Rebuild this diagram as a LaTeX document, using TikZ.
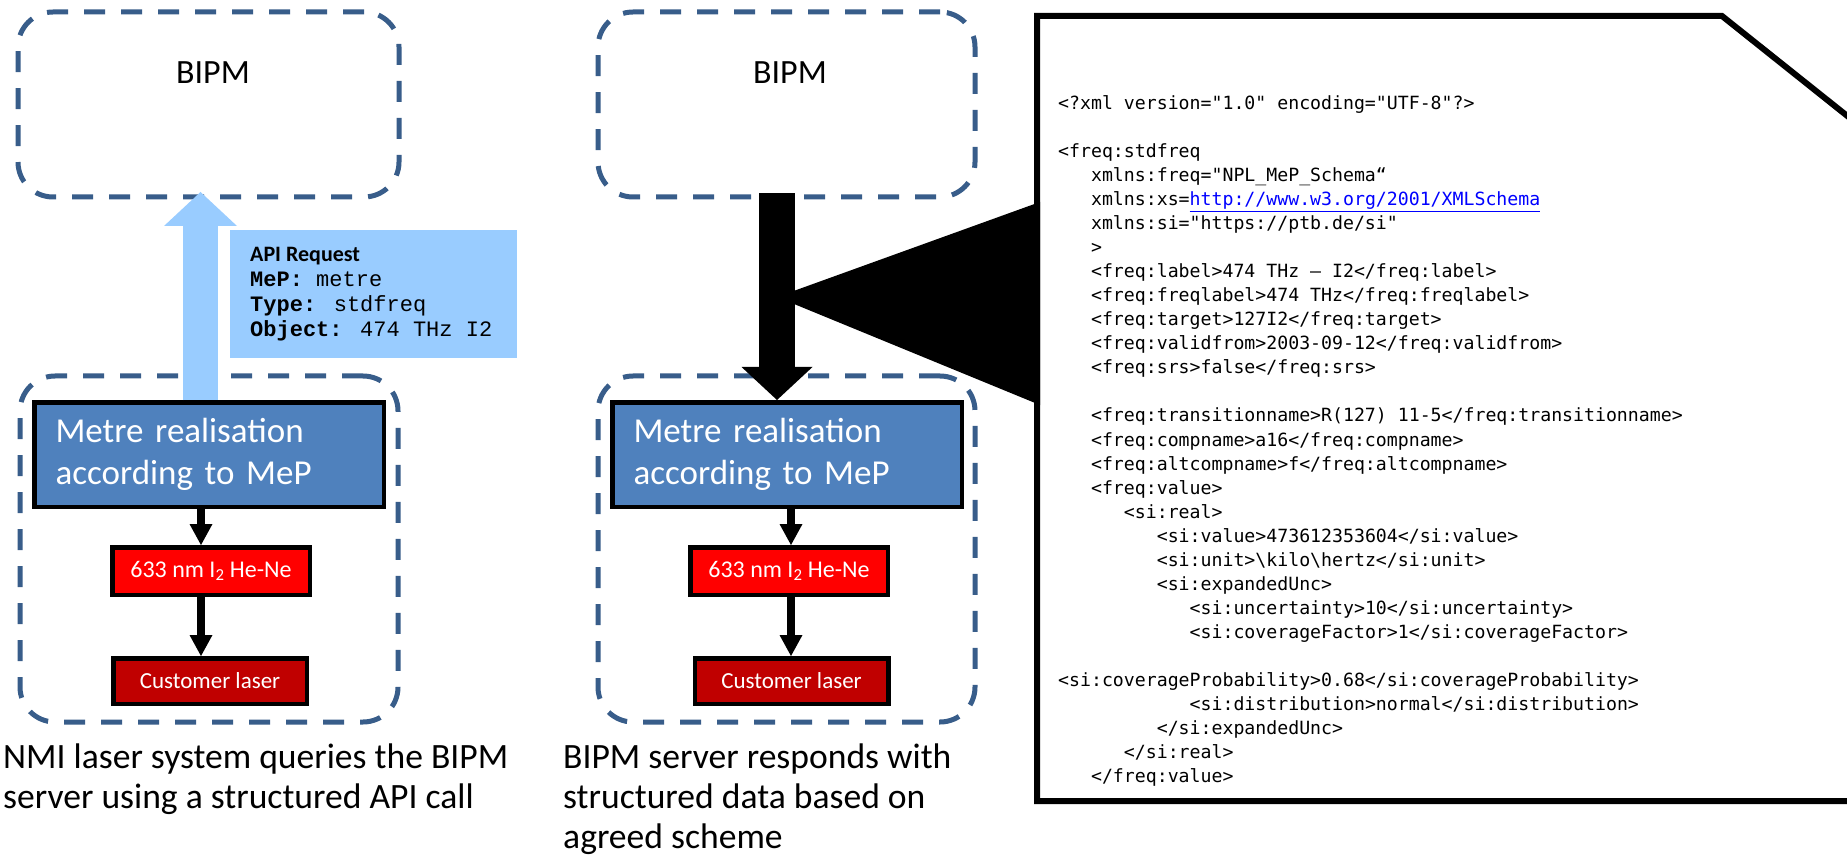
\documentclass[tikz,border=0pt]{standalone}
\usepackage{fontspec}
\setmainfont{Carlito}
\setmonofont{DejaVu Sans Mono}
\newfontfamily\cour{Liberation Mono}
\usetikzlibrary{arrows.meta,calc}
\definecolor{dashblue}{RGB}{56,93,138}
\definecolor{boxblue}{RGB}{79,129,189}
\definecolor{lightb}{RGB}{153,204,255}
\definecolor{darkred}{RGB}{192,0,0}
\definecolor{linkblue}{RGB}{0,0,255}
\tikzset{
  dbox/.style={draw=dashblue, line width=5pt, dash pattern=on 21pt off 16pt, rounded corners=35pt, inner sep=0pt},
  bipmt/.style={font=\fontsize{34}{40}\selectfont, inner sep=0pt},
  mrbox/.style={draw=black, line width=4.5pt, fill=boxblue, text=white, minimum width=349.5pt, minimum height=104.5pt, inner xsep=21pt, text width=307pt, align=left, font=\fontsize{35}{42}\selectfont},
  laserbox/.style={draw=black, line width=4.5pt, fill=red, text=white, minimum width=197.5pt, minimum height=47.5pt, font=\fontsize{24}{28}\selectfont},
  custbox/.style={draw=black, line width=4.5pt, fill=darkred, text=white, minimum width=193.5pt, minimum height=45.5pt, font=\fontsize{23}{27}\selectfont},
  sarrow/.style={draw=black, line width=8pt, -{Triangle[width=23pt,length=21pt,line width=0pt]}},
  barrow/.style={draw=black, line width=36pt, -{Triangle[width=71pt,length=33pt,line width=0pt]}},
  lbarrow/.style={draw=lightb, line width=35pt, -{Triangle[width=73pt,length=34pt,line width=0pt]}},
  apit/.style={anchor=base west, inner sep=0pt, font=\fontsize{22}{25}\selectfont},
  capt/.style={anchor=base west, inner sep=0pt, font=\fontsize{35.6}{42}\selectfont},
  xmlt/.style={anchor=base west, inner sep=0pt, font=\ttfamily\fontsize{18.2}{24}\selectfont}
}
\newcommand\xl[3]{\node[xmlt] (xl#1) at (1058,{109.2+24.06*#1}) {\hphantom{#2}#3};}
\begin{document}
\begin{tikzpicture}[x=1pt,y=-1pt]
\useasboundingbox (0,0) rectangle (1847,858);
\clip (0,0) rectangle (1847,858);
\fill[white] (0,0) rectangle (1847,858);

% dashed frames
\node[dbox, minimum width=381pt, minimum height=185pt] (bipm1) at (208.5,104.5) {};
\node[dbox, minimum width=377pt, minimum height=185pt] (bipm2) at (786.5,104.5) {};
\node[dbox, minimum width=378pt, minimum height=346pt] (nmi1) at (209,549) {};
\node[dbox, minimum width=377pt, minimum height=346pt] (nmi2) at (786.5,549) {};
\node[bipmt] (bipm1t) at (213,73) {BIPM};
\node[bipmt] (bipm2t) at (790,73) {BIPM};

% callout
\coordinate (ptip) at (777,297);
\draw[line width=6pt, fill=white, line join=miter] (1037,16) -- (1722,16) -- (1900,158) -- (1900,801) -- (1037,801) -- cycle;
\fill[black] (ptip) -- (1040,202) -- (1040,405) -- cycle;

% boxes
\node[mrbox] (mr1) at (209,454.5) {Metre realisation\\according to MeP};
\node[mrbox] (mr2) at (787,454.5) {Metre realisation\\according to MeP};
\node[laserbox] (red1) at (211,571) {633 nm I\textsubscript{2} He-Ne};
\node[laserbox] (red2) at (789,571) {633 nm I\textsubscript{2} He-Ne};
\node[custbox] (cust1) at (210,681) {Customer laser};
\node[custbox] (cust2) at (791.5,681) {Customer laser};

% arrows
\coordinate (lbx) at (200.5,0);
\coordinate (bax) at (777,0);
\coordinate (lax) at (201,0);
\coordinate (max) at (791,0);
\draw[lbarrow] (mr1.north -| lbx) -- ([yshift=7.5pt]bipm1.south -| lbx);
\draw[barrow] ([yshift=6pt]bipm2.south -| bax) -- (mr2.north -| bax);
\draw[sarrow] (mr1.south -| lax) -- (red1.north -| lax);
\draw[sarrow] (red1.south -| lax) -- (cust1.north -| lax);
\draw[sarrow] (mr2.south -| max) -- (red2.north -| max);
\draw[sarrow] (red2.south -| max) -- (cust2.north -| max);

% API request
\node[fill=lightb, minimum width=287pt, minimum height=128pt, inner sep=0pt] (api) at (373.5,294) {};
\node[apit] (api1) at (250,262) {\textbf{API Request}};
\node[apit] (api2) at (250,287) {\cour\textbf{MeP:} metre};
\node[apit] (api3) at (250,312) {\cour\textbf{Type:} stdfreq};
\node[apit] (api4) at (250,337) {\cour\textbf{Object:} 474 THz I2};

% captions
\node[capt] (cap1a) at (3,768) {NMI laser system queries the BIPM};
\node[capt] (cap1b) at (3,808) {server using a structured API call};
\node[capt] (cap2a) at (563,768) {BIPM server responds with};
\node[capt] (cap2b) at (563,808) {structured data based on};
\node[capt] (cap2c) at (563,848) {agreed scheme};

% XML
\xl{0}{}{<?xml version="1.0" encoding="UTF-8"?>}
\xl{2}{}{<freq:stdfreq}
\xl{3}{xxx}{xmlns:freq="NPL\_MeP\_Schema“}
\xl{4}{xxx}{xmlns:xs=\textcolor{linkblue}{\underline{http://www.w3.org/2001/XMLSchema}}}
\xl{5}{xxx}{xmlns:si="https://ptb.de/si"}
\xl{6}{xxx}{>}
\xl{7}{xxx}{<freq:label>474 THz – I2</freq:label>}
\xl{8}{xxx}{<freq:freqlabel>474 THz</freq:freqlabel>}
\xl{9}{xxx}{<freq:target>127I2</freq:target>}
\xl{10}{xxx}{<freq:validfrom>2003-09-12</freq:validfrom>}
\xl{11}{xxx}{<freq:srs>false</freq:srs>}
\xl{13}{xxx}{<freq:transitionname>R(127) 11-5</freq:transitionname>}
\xl{14}{xxx}{<freq:compname>a16</freq:compname>}
\xl{15}{xxx}{<freq:altcompname>f</freq:altcompname>}
\xl{16}{xxx}{<freq:value>}
\xl{17}{xxxxxx}{<si:real>}
\xl{18}{xxxxxxxxx}{<si:value>473612353604</si:value>}
\xl{19}{xxxxxxxxx}{<si:unit>\textbackslash kilo\textbackslash hertz</si:unit>}
\xl{20}{xxxxxxxxx}{<si:expandedUnc>}
\xl{21}{xxxxxxxxxxxx}{<si:uncertainty>10</si:uncertainty>}
\xl{22}{xxxxxxxxxxxx}{<si:coverageFactor>1</si:coverageFactor>}
\xl{24}{}{<si:coverageProbability>0.68</si:coverageProbability>}
\xl{25}{xxxxxxxxxxxx}{<si:distribution>normal</si:distribution>}
\xl{26}{xxxxxxxxx}{</si:expandedUnc>}
\xl{27}{xxxxxx}{</si:real>}
\xl{28}{xxx}{</freq:value>}
\end{tikzpicture}
\end{document}
